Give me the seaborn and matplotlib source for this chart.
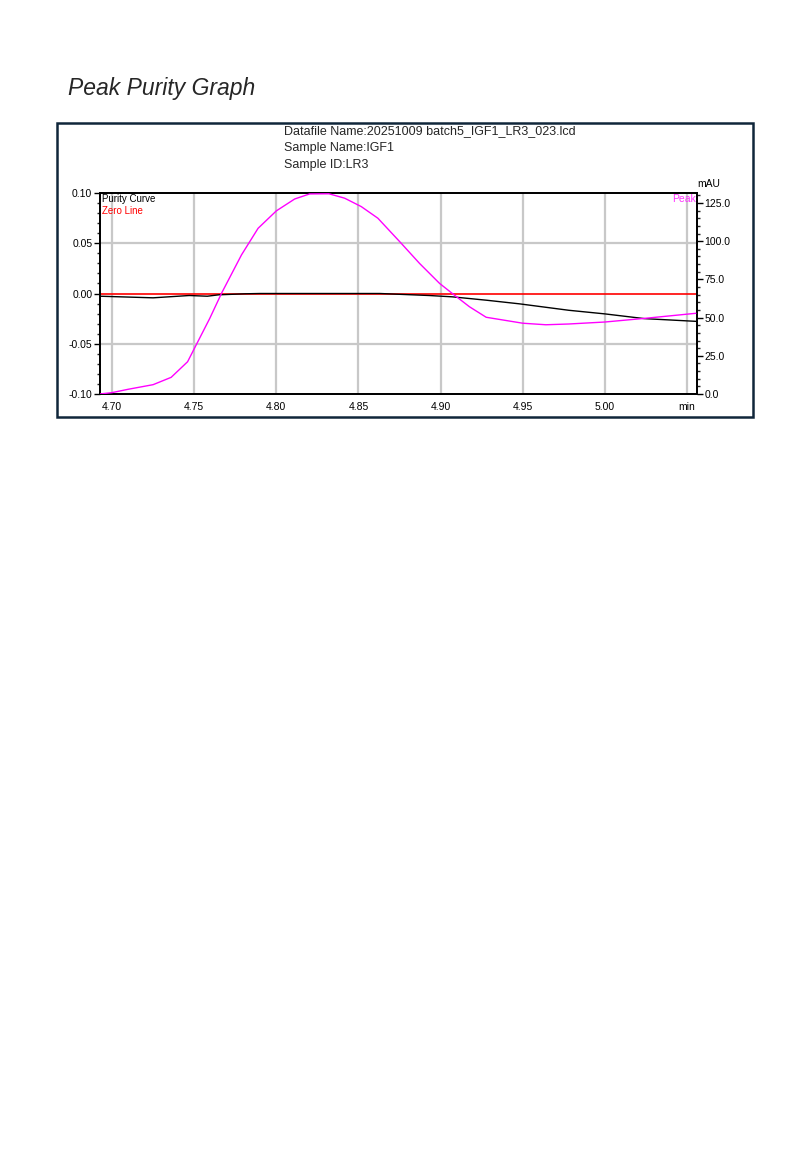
import matplotlib
matplotlib.use("Agg")
import matplotlib.pyplot as plt
import matplotlib.patches as patches
from matplotlib.ticker import MultipleLocator, FixedLocator, FixedFormatter
import seaborn as sns
import pandas as pd

# Purity curve (left axis)
purity_time = [4.6927, 4.725, 4.747, 4.758, 4.765, 4.781, 4.790, 4.863,
               4.893, 4.907, 4.928, 4.948, 4.978, 5.000, 5.024, 5.0553]
purity_val = [-0.0027, -0.0043, -0.0020, -0.0027, -0.0013, -0.0003, 0.0, 0.0,
              -0.0020, -0.0033, -0.0067, -0.0103, -0.0167, -0.0203, -0.0250, -0.0277]

# Peak chromatogram (right axis, mAU)
peak_time = [4.6927, 4.700, 4.7099, 4.725, 4.736, 4.746, 4.7595, 4.7667,
             4.7788, 4.7889, 4.800, 4.8112, 4.8203, 4.832, 4.8416, 4.8517,
             4.8618, 4.876, 4.8871, 4.8993, 4.9074, 4.9175, 4.9277, 4.950,
             4.964, 4.978, 5.000, 5.0243, 5.0553]
peak_mau = [0.0, 0.9, 3.1, 6.1, 10.9, 21.1, 49.5, 66.0,
            91.0, 108.4, 119.8, 127.6, 130.9, 131.0, 128.1, 122.6,
            115.0, 98.6, 85.5, 72.4, 65.5, 57.1, 50.2, 46.3,
            45.3, 45.8, 47.1, 49.5, 52.8]

xtick_pos = [4.70, 4.75, 4.80, 4.85, 4.90, 4.95, 5.00, 5.05]
xtick_lab = ["4.70", "4.75", "4.80", "4.85", "4.90", "4.95", "5.00", "min"]

header_lines = ["Datafile Name:20251009 batch5_IGF1_LR3_023.lcd",
                "Sample Name:IGF1",
                "Sample ID:LR3"]

sns.set_style("white")
narrow = ["Liberation Sans", "DejaVu Sans"]
plt.rcParams["font.family"] = narrow

purity_df = pd.DataFrame({"time": purity_time, "value": purity_val})
peak_df = pd.DataFrame({"time": peak_time, "mau": peak_mau})

fig = plt.figure(figsize=(8.1, 11.7), dpi=100)
ax = fig.add_axes([100 / 810, 1 - 394 / 1170, 597 / 810, 201 / 1170])
ax2 = ax.twinx()

# grid lines at the major ticks
ax.set_axisbelow(True)
for xv in xtick_pos:
    ax.axvline(xv, color="#c8c8c8", lw=1.6, zorder=0)
for yv in [-0.05, 0.05]:
    ax.axhline(yv, color="#c8c8c8", lw=1.6, zorder=0)

ax.axhline(0.0, color="#ff0000", lw=1.2, zorder=2)
sns.lineplot(data=purity_df, x="time", y="value", ax=ax, color="black",
             lw=1.0, zorder=3)
sns.lineplot(data=peak_df, x="time", y="mau", ax=ax2, color="#ff00ff",
             lw=1.0, zorder=3)

ax.set_xlim(4.6927, 5.0560)
ax.set_ylim(-0.10, 0.10)
ax2.set_ylim(0, 131.5)
ax.set_xlabel("")
ax.set_ylabel("")
ax2.set_ylabel("")

ax.yaxis.set_major_locator(MultipleLocator(0.05))
ax.yaxis.set_minor_locator(MultipleLocator(0.01))
ax.yaxis.set_major_formatter(plt.FuncFormatter(lambda v, p: f"{v:.2f}"))
ax2.yaxis.set_major_locator(MultipleLocator(25))
ax2.yaxis.set_minor_locator(MultipleLocator(5))
ax2.yaxis.set_major_formatter(plt.FuncFormatter(lambda v, p: f"{v:.1f}"))
ax.xaxis.set_major_locator(FixedLocator(xtick_pos))
ax.xaxis.set_major_formatter(FixedFormatter(xtick_lab))
ax.xaxis.set_minor_locator(MultipleLocator(0.01))

for a in (ax, ax2):
    for s in a.spines.values():
        s.set_color("black")
        s.set_linewidth(1.3)
ax.tick_params(axis="both", which="major", direction="out", length=4.5,
               width=1.0, labelsize=7.5, pad=1, colors="black")
ax.tick_params(axis="both", which="minor", direction="out", length=2.5,
               width=1.0)
ax.tick_params(axis="y", which="minor", length=2.2)
ax2.tick_params(axis="y", which="major", direction="out", length=4.5,
                width=1.0, labelsize=7.5, pad=1, colors="black")
ax2.tick_params(axis="y", which="minor", direction="out", length=2.5,
                width=1.0)

ax.text(0.003, 0.995, "Purity Curve", transform=ax.transAxes, fontsize=7,
        color="black", va="top", ha="left", family=narrow)
ax.text(0.003, 0.935, "Zero Line", transform=ax.transAxes, fontsize=7,
        color="#ff0000", va="top", ha="left", family=narrow)
ax2.text(0.998, 0.995, "Peak", transform=ax2.transAxes, fontsize=7.5,
         color="#ff33ff", va="top", ha="right", family=narrow)
ax2.text(1.02, 1.02, "mAU", transform=ax2.transAxes, fontsize=7.5,
         color="black", va="bottom", ha="center", family=narrow)

# header and outer frame
for i, line in enumerate(header_lines):
    fig.text(284 / 810, 1 - (131 + 17 * i) / 1170, line, fontsize=9,
             va="center", ha="left", family=narrow)

frame = patches.Rectangle((57 / 810, 1 - 417 / 1170), 696 / 810, 294 / 1170,
                          transform=fig.transFigure, fill=False,
                          edgecolor="#10263a", lw=1.8)
fig.patches.append(frame)

fig.text(68 / 810, 1 - 95 / 1170, "Peak Purity Graph", fontsize=16.5,
         style="italic", family=["Liberation Sans", "DejaVu Sans"],
         va="baseline", ha="left")

fig.savefig("out.png", dpi=100)
